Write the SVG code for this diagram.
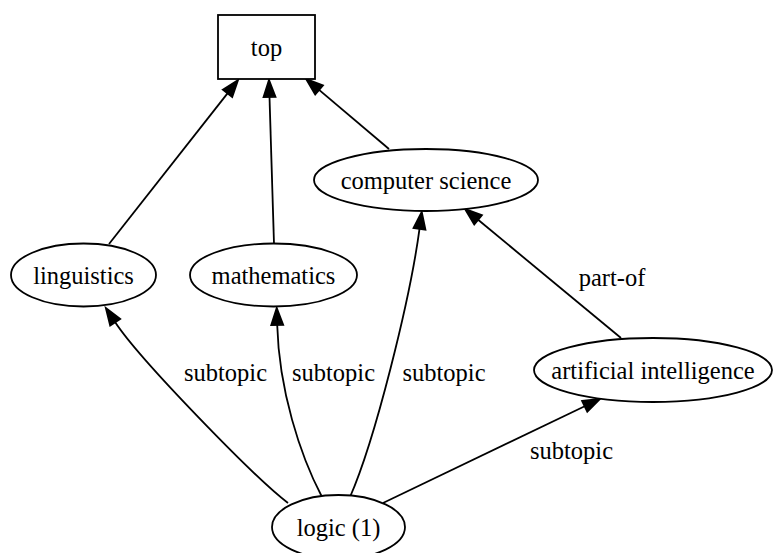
<svg xmlns="http://www.w3.org/2000/svg" width="774" height="553" viewBox="0 0 774 553">
<style>
  .node { fill: #ffffff; stroke: #000000; stroke-width: 1.8; }
  .edge { fill: none; stroke: #000000; stroke-width: 1.8; }
  .lbl { font-family: 'Liberation Serif', 'Times New Roman', Times, 'DejaVu Serif', serif; font-size: 24.5px; fill: #000000; text-anchor: middle; }
</style>
<defs>
  <marker id="arrow" markerUnits="userSpaceOnUse" viewBox="-1 -8 20 16" refX="0" refY="0" markerWidth="20" markerHeight="16" orient="auto" overflow="visible">
    <polygon points="0,-6 17,0 0,6" fill="#000000" stroke="#000000" stroke-width="1.8"/>
  </marker>
</defs>
<rect width="774" height="553" fill="#ffffff"/>
<g id="connectors">
  <path class="edge" marker-end="url(#arrow)" d="M109,244 L227.5,93.4"/>
  <path class="edge" marker-end="url(#arrow)" d="M274,244 L269.5,97"/>
  <path class="edge" marker-end="url(#arrow)" d="M389,149 L319.1,89.9"/>
  <path class="edge" marker-end="url(#arrow)" d="M288,503 C255,478 140,360 115.2,322.3"/>
  <path class="edge" marker-end="url(#arrow)" d="M322,497 C300,455 279,390 277.2,325"/>
  <path class="edge" marker-end="url(#arrow)" d="M350,497 C375,440 410,300 419.5,228.8"/>
  <path class="edge" marker-end="url(#arrow)" d="M383,503 L584.7,406.3"/>
  <path class="edge" marker-end="url(#arrow)" d="M621,338 L478.1,219.8"/>
  <text class="lbl" font-family="Liberation Serif, serif" x="225.5" y="381">subtopic</text>
  <text class="lbl" font-family="Liberation Serif, serif" x="333.5" y="381">subtopic</text>
  <text class="lbl" font-family="Liberation Serif, serif" x="444" y="381">subtopic</text>
  <text class="lbl" font-family="Liberation Serif, serif" x="571.5" y="459">subtopic</text>
  <text class="lbl" font-family="Liberation Serif, serif" x="612" y="286">part-of</text>
</g>
<g id="top">
  <rect class="node" x="218" y="15" width="97" height="64"/>
  <text class="lbl" font-family="Liberation Serif, serif" x="266.5" y="56">top</text>
</g>
<g id="linguistics">
  <ellipse class="node" cx="83.5" cy="275" rx="72.5" ry="31.5"/>
  <text class="lbl" font-family="Liberation Serif, serif" x="83.5" y="283.5">linguistics</text>
</g>
<g id="mathematics">
  <ellipse class="node" cx="273.5" cy="275" rx="83.5" ry="31.5"/>
  <text class="lbl" font-family="Liberation Serif, serif" x="273.5" y="283.5">mathematics</text>
</g>
<g id="computer_science">
  <ellipse class="node" cx="426" cy="180" rx="112" ry="31"/>
  <text class="lbl" font-family="Liberation Serif, serif" x="426" y="188.5">computer science</text>
</g>
<g id="artificial_intelligence">
  <ellipse class="node" cx="653" cy="370" rx="119" ry="32"/>
  <text class="lbl" font-family="Liberation Serif, serif" x="653" y="378.5">artificial intelligence</text>
</g>
<g id="logic">
  <ellipse class="node" cx="338.5" cy="527" rx="66.5" ry="32"/>
  <text class="lbl" font-family="Liberation Serif, serif" x="338.5" y="535.5">logic (1)</text>
</g>
</svg>
